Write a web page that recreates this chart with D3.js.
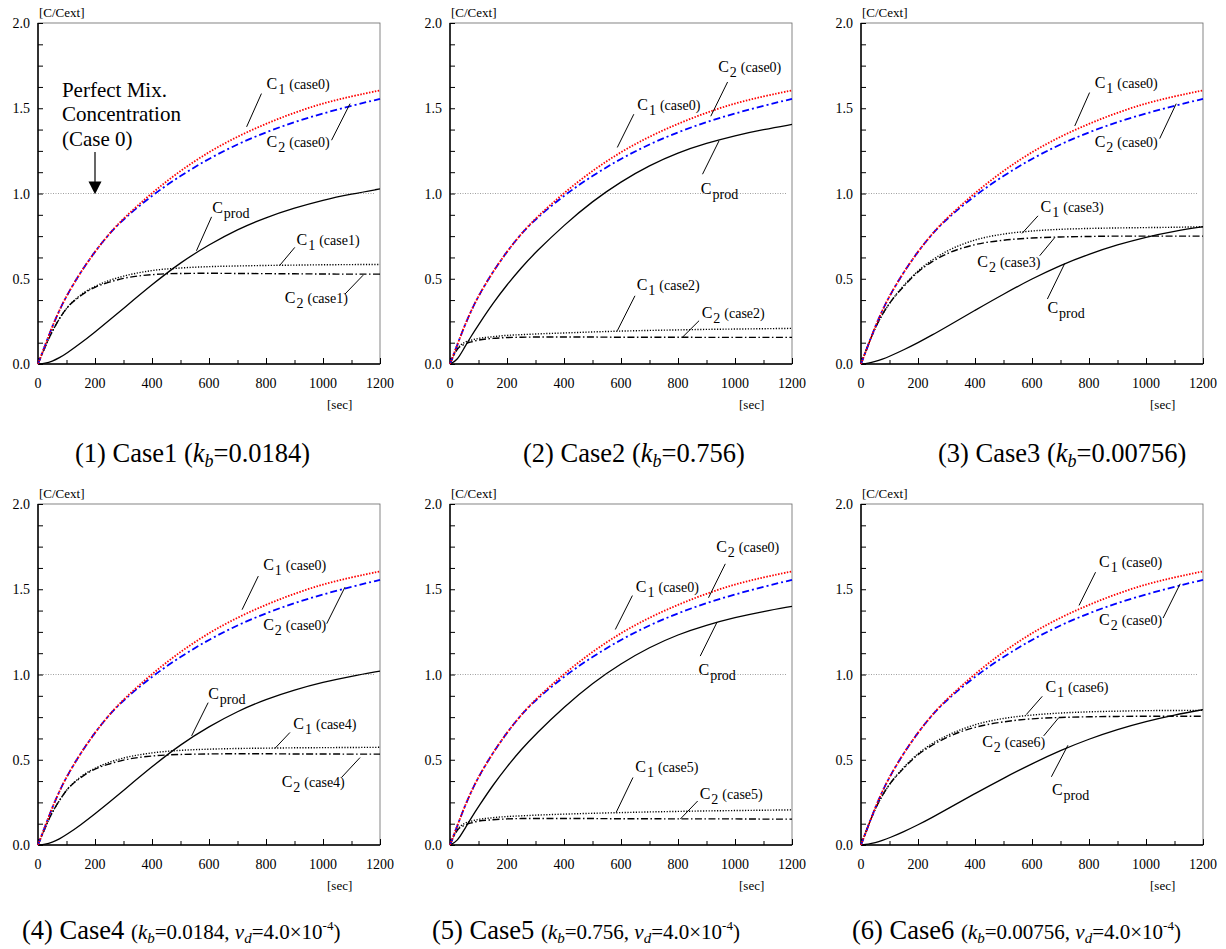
<!doctype html>
<html>
<head>
<style>
  body { margin: 0; background: #fff; }
  text { font-family: "Liberation Serif", "Times New Roman", serif; fill: #000; }
</style>
<script src="https://d3js.org/d3.v7.min.js"></script>
</head>
<body>
<svg id="chart" width="1226" height="949"></svg>
<script>
// sample times [sec]
var times = [0, 25, 50, 75, 100, 150, 200, 250, 300, 400, 500, 600, 700, 800, 900, 1000, 1100, 1200];

// perfect mix (case 0) - same in every panel
var c1Case0 = [0, 0.11, 0.22, 0.315, 0.40, 0.54, 0.66, 0.765, 0.855, 1.005, 1.135, 1.245, 1.335, 1.41, 1.475, 1.53, 1.57, 1.605];
var c2Case0 = [0, 0.11, 0.22, 0.315, 0.40, 0.54, 0.66, 0.765, 0.85, 0.99, 1.105, 1.205, 1.29, 1.36, 1.42, 1.47, 1.515, 1.555];

var cprod1 = [0, 0.004, 0.016, 0.036, 0.062, 0.122, 0.188, 0.256, 0.326, 0.466, 0.596, 0.70, 0.79, 0.86, 0.915, 0.962, 0.997, 1.027];
var c1Case1 = [0, 0.10, 0.19, 0.265, 0.325, 0.405, 0.455, 0.49, 0.515, 0.548, 0.563, 0.571, 0.575, 0.578, 0.58, 0.582, 0.583, 0.584];
var c2Case1 = [0, 0.10, 0.19, 0.265, 0.325, 0.40, 0.45, 0.48, 0.502, 0.524, 0.531, 0.532, 0.531, 0.53, 0.529, 0.528, 0.527, 0.527];

var cprod2 = [0, 0.02, 0.095, 0.165, 0.23, 0.355, 0.465, 0.565, 0.655, 0.815, 0.955, 1.07, 1.165, 1.24, 1.295, 1.34, 1.375, 1.405];
var c1Case2 = [0, 0.09, 0.125, 0.14, 0.15, 0.16, 0.168, 0.172, 0.176, 0.182, 0.188, 0.193, 0.197, 0.20, 0.203, 0.205, 0.207, 0.209];
var c2Case2 = [0, 0.085, 0.115, 0.13, 0.14, 0.15, 0.155, 0.157, 0.158, 0.158, 0.158, 0.157, 0.157, 0.157, 0.156, 0.156, 0.156, 0.156];

var cprod3 = [0, 0.004, 0.014, 0.028, 0.045, 0.083, 0.125, 0.17, 0.218, 0.315, 0.41, 0.50, 0.58, 0.645, 0.70, 0.745, 0.78, 0.805];
var c1Case3 = [0, 0.11, 0.21, 0.29, 0.355, 0.46, 0.545, 0.61, 0.66, 0.727, 0.762, 0.78, 0.79, 0.795, 0.798, 0.80, 0.802, 0.805];
var c2Case3 = [0, 0.11, 0.21, 0.29, 0.355, 0.455, 0.54, 0.60, 0.645, 0.70, 0.726, 0.739, 0.745, 0.748, 0.75, 0.75, 0.75, 0.75];

var cprod4 = [0, 0.004, 0.016, 0.035, 0.06, 0.118, 0.183, 0.25, 0.32, 0.46, 0.59, 0.695, 0.785, 0.855, 0.91, 0.955, 0.99, 1.02];
var c1Case4 = [0, 0.10, 0.19, 0.26, 0.32, 0.40, 0.45, 0.485, 0.51, 0.54, 0.555, 0.562, 0.566, 0.568, 0.57, 0.571, 0.572, 0.573];
var c2Case4 = [0, 0.10, 0.19, 0.26, 0.32, 0.395, 0.445, 0.475, 0.498, 0.522, 0.531, 0.534, 0.535, 0.535, 0.534, 0.534, 0.533, 0.533];

var cprod5 = [0, 0.02, 0.09, 0.16, 0.225, 0.35, 0.46, 0.56, 0.65, 0.81, 0.95, 1.065, 1.16, 1.235, 1.29, 1.335, 1.37, 1.40];
var c1Case5 = [0, 0.09, 0.125, 0.14, 0.15, 0.16, 0.167, 0.171, 0.175, 0.181, 0.186, 0.19, 0.194, 0.197, 0.2, 0.202, 0.204, 0.206];
var c2Case5 = [0, 0.085, 0.115, 0.13, 0.14, 0.148, 0.153, 0.155, 0.155, 0.155, 0.155, 0.154, 0.154, 0.153, 0.153, 0.153, 0.152, 0.152];

var cprod6 = [0, 0.004, 0.013, 0.026, 0.042, 0.078, 0.118, 0.162, 0.208, 0.302, 0.392, 0.477, 0.555, 0.622, 0.678, 0.725, 0.763, 0.794];
var c1Case6 = [0, 0.11, 0.21, 0.29, 0.355, 0.455, 0.535, 0.595, 0.64, 0.705, 0.742, 0.762, 0.774, 0.781, 0.785, 0.788, 0.789, 0.79];
var c2Case6 = [0, 0.11, 0.21, 0.29, 0.355, 0.45, 0.53, 0.585, 0.63, 0.69, 0.722, 0.74, 0.748, 0.752, 0.754, 0.755, 0.755, 0.755];

var xTicks = [0, 200, 400, 600, 800, 1000, 1200];
var yTicks = [0, 0.5, 1.0, 1.5, 2.0];

// annotation: [sub, tag, textX, textY, lineX1, lineY1, lineX2, lineY2] in data units
var notes1 = [["1", "(case0)", 802, 1.615, 784, 1.586, 732, 1.391],
              ["2", "(case0)", 802, 1.273, 1030, 1.3125, 1095, 1.527],
              ["prod", "", 611, 0.883, 609, 0.863, 556, 0.664],
              ["1", "(case1)", 907, 0.697, 901, 0.684, 849, 0.58],
              ["2", "(case1)", 866, 0.355, 1077, 0.41, 1141, 0.521]];
var notes2 = [["2", "(case0)", 941, 1.713, 974, 1.654, 915, 1.453],
              ["1", "(case0)", 657, 1.488, 645, 1.465, 587, 1.27],
              ["prod", "", 880, 1.0, 886, 1.113, 944, 1.309],
              ["1", "(case2)", 655, 0.434, 649, 0.40, 587, 0.195],
              ["2", "(case2)", 883, 0.268, 874, 0.254, 815, 0.156]];
var notes3 = [["1", "(case0)", 820, 1.621, 802, 1.592, 750, 1.396],
              ["2", "(case0)", 820, 1.273, 1048, 1.322, 1106, 1.527],
              ["1", "(case3)", 630, 0.893, 621, 0.869, 565, 0.766],
              ["2", "(case3)", 408, 0.57, 627, 0.635, 680, 0.742],
              ["prod", "", 654, 0.297, 654, 0.381, 715, 0.59]];
var notes4 = [["1", "(case0)", 790, 1.61, 773, 1.577, 716, 1.38],
              ["2", "(case0)", 790, 1.259, 1013, 1.298, 1077, 1.512],
              ["prod", "", 597, 0.859, 597, 0.835, 539, 0.64],
              ["1", "(case4)", 896, 0.683, 884, 0.66, 831, 0.566],
              ["2", "(case4)", 855, 0.341, 1065, 0.396, 1130, 0.513]];
var notes5 = [["2", "(case0)", 934, 1.717, 966, 1.649, 907, 1.45],
              ["1", "(case0)", 652, 1.483, 640, 1.463, 580, 1.264],
              ["prod", "", 872, 0.995, 878, 1.108, 937, 1.307],
              ["1", "(case5)", 650, 0.429, 642, 0.396, 583, 0.191],
              ["2", "(case5)", 876, 0.267, 869, 0.258, 808, 0.152]];
var notes6 = [["1", "(case0)", 835, 1.629, 823, 1.60, 765, 1.405],
              ["2", "(case0)", 835, 1.288, 1060, 1.331, 1120, 1.532],
              ["1", "(case6)", 647, 0.898, 636, 0.872, 580, 0.765],
              ["2", "(case6)", 425, 0.576, 641, 0.64, 694, 0.747],
              ["prod", "", 670, 0.293, 668, 0.40, 726, 0.585]];

var panels = [
  {x: 38,  y: 23,  cprod: cprod1, c1: c1Case1, c2: c2Case1, notes: notes1, num: "(1) Case1", kb: "0.0184",  vd: false, capX: 75},
  {x: 450, y: 23,  cprod: cprod2, c1: c1Case2, c2: c2Case2, notes: notes2, num: "(2) Case2", kb: "0.756",   vd: false, capX: 523},
  {x: 861, y: 23,  cprod: cprod3, c1: c1Case3, c2: c2Case3, notes: notes3, num: "(3) Case3", kb: "0.00756", vd: false, capX: 938},
  {x: 38,  y: 504, cprod: cprod4, c1: c1Case4, c2: c2Case4, notes: notes4, num: "(4) Case4", kb: "0.0184",  vd: true, capX: 22},
  {x: 450, y: 504, cprod: cprod5, c1: c1Case5, c2: c2Case5, notes: notes5, num: "(5) Case5", kb: "0.756",   vd: true, capX: 432},
  {x: 861, y: 504, cprod: cprod6, c1: c1Case6, c2: c2Case6, notes: notes6, num: "(6) Case6", kb: "0.00756", vd: true, capX: 852}
];

var width = 342, height = 341;
var svg = d3.select("#chart");

panels.forEach(function(p, i) {
  var x = d3.scaleLinear().domain([0, 1200]).range([0, width]);
  var y = d3.scaleLinear().domain([0, 2]).range([height, 0]);
  var g = svg.append("g").attr("transform", "translate(" + p.x + "," + p.y + ")");

  // frame
  g.append("rect").attr("width", width).attr("height", height)
   .attr("fill", "none").attr("stroke", "#666").attr("stroke-width", 0.8);

  // reference line at 1.0
  g.append("line")
   .attr("x1", x(0)).attr("x2", x(1180)).attr("y1", y(1)).attr("y2", y(1))
   .attr("stroke", "#888").attr("stroke-width", 0.8).attr("stroke-dasharray", "1,1.5");

  // axes
  g.append("g").attr("transform", "translate(0," + height + ")")
   .call(d3.axisTop(x).tickValues(d3.range(0, 1201, 100)).tickSize(4).tickFormat(""))
   .call(function(a) { a.select(".domain").remove(); })
   .selectAll("line").attr("stroke-width", 1)
   .attr("y2", function(d) { return d % 200 === 0 ? -6 : -4; });
  g.append("g")
   .call(d3.axisRight(y).tickValues(d3.range(0, 2.01, 0.125)).tickSize(5).tickFormat(""))
   .call(function(a) { a.select(".domain").remove(); });

  g.append("line").attr("x1", 0).attr("x2", width).attr("y1", height).attr("y2", height)
   .attr("stroke", "#000").attr("stroke-width", 1.5);
  g.append("line").attr("x1", 0).attr("x2", 0).attr("y1", 0).attr("y2", height)
   .attr("stroke", "#000").attr("stroke-width", 1.5);

  g.selectAll(".xl").data(xTicks).enter().append("text")
   .attr("x", function(d) { return x(d); }).attr("y", height + 24)
   .attr("text-anchor", "middle").attr("font-size", "14px")
   .text(function(d) { return d; });
  g.selectAll(".yl").data(yTicks).enter().append("text")
   .attr("x", -8).attr("y", function(d) { return y(d) + 5; })
   .attr("text-anchor", "end").attr("font-size", "14px")
   .text(function(d) { return d3.format(".1f")(d); });

  g.append("text").attr("x", 1).attr("y", -6).attr("font-size", "13px").text("[C/Cext]");
  g.append("text").attr("x", width - 53).attr("y", height + 45).attr("font-size", "13px").text("[sec]");

  // curves
  var smooth = d3.line()
    .x(function(d, j) { return x(times[j]); })
    .y(function(d) { return y(d); })
    .curve(d3.curveBasis);
  var mono = d3.line()
    .x(function(d, j) { return x(times[j]); })
    .y(function(d) { return y(d); })
    .curve(d3.curveMonotoneX);

  var series = [
    {v: p.c1, color: "#000", dash: "1.2,1.6", w: 1.4, gen: mono},
    {v: p.c2, color: "#000", dash: "7,2.5,1.5,2.5", w: 1.4, gen: mono},
    {v: p.cprod, color: "#000", dash: null, w: 1.3, gen: smooth},
    {v: c2Case0, color: "#0000ff", dash: "7,3,2,3", w: 1.8, gen: smooth},
    {v: c1Case0, color: "#ff0000", dash: "1.5,1.5", w: 1.8, gen: smooth}
  ];
  series.forEach(function(s) {
    g.append("path").datum(s.v)
     .attr("d", s.gen).attr("fill", "none")
     .attr("stroke", s.color).attr("stroke-width", s.w)
     .attr("stroke-dasharray", s.dash);
  });

  // annotations
  p.notes.forEach(function(n) {
    g.append("line")
     .attr("x1", x(n[4])).attr("y1", y(n[5])).attr("x2", x(n[6])).attr("y2", y(n[7]))
     .attr("stroke", "#000").attr("stroke-width", 1);
    var t = g.append("text").attr("x", x(n[2])).attr("y", y(n[3])).attr("font-size", "16px");
    t.append("tspan").text("C");
    t.append("tspan").attr("font-size", "14px").attr("dy", 5).attr("dx", 1).text(n[0]);
    if (n[1]) t.append("tspan").attr("font-size", "14px").attr("dy", -5).attr("dx", 4).text(n[1]);
  });

  if (i === 0) {
    var pm = ["Perfect Mix.", "Concentration", "(Case 0)"];
    var pmY = [1.566, 1.425, 1.279];
    pm.forEach(function(s, k) {
      g.append("text").attr("x", x(84)).attr("y", y(pmY[k])).attr("font-size", "21px").text(s);
    });
    g.append("line").attr("x1", x(200)).attr("x2", x(200)).attr("y1", y(1.243)).attr("y2", y(1.06))
     .attr("stroke", "#000").attr("stroke-width", 1.2);
    g.append("path")
     .attr("d", "M" + (x(200) - 6.5) + "," + y(1.07) + "L" + (x(200) + 6.5) + "," + y(1.07) + "L" + x(200) + "," + y(0.995) + "Z")
     .attr("fill", "#000");
  }

  // caption
  var cap = svg.append("text").attr("x", p.capX).attr("y", p.y + height + (p.vd ? 94 : 98))
    .attr("font-size", "26.5px");
  cap.append("tspan").text(p.num + " ");
  var small = p.vd ? "21px" : "26.5px";
  cap.append("tspan").attr("font-size", small).text("(");
  cap.append("tspan").attr("font-size", small).attr("font-style", "italic").text("k");
  cap.append("tspan").attr("font-size", p.vd ? "15px" : "18px").attr("font-style", "italic").attr("dy", p.vd ? 4 : 5).text("b");
  cap.append("tspan").attr("font-size", small).attr("dy", p.vd ? -4 : -5).text("=" + p.kb + (p.vd ? ", " : ")"));
  if (p.vd) {
    cap.append("tspan").attr("font-size", small).attr("font-style", "italic").text("v");
    cap.append("tspan").attr("font-size", "15px").attr("font-style", "italic").attr("dy", 4).text("d");
    cap.append("tspan").attr("font-size", small).attr("dy", -4).text("=4.0\u00d710");
    cap.append("tspan").attr("font-size", "13px").attr("dy", -9).text("-4");
    cap.append("tspan").attr("font-size", small).attr("dy", 9).text(")");
  }
});
</script>
</body>
</html>
